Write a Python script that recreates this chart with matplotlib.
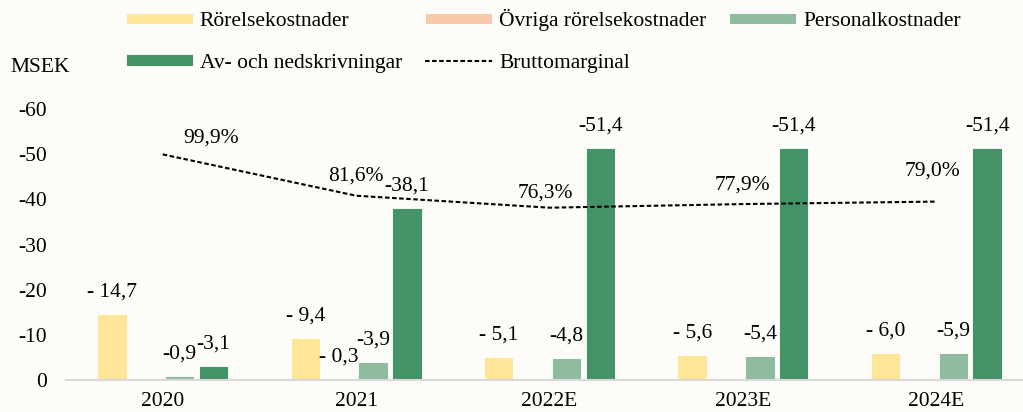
import numpy as np
import matplotlib.pyplot as plt
from matplotlib.ticker import FuncFormatter

plt.rcParams['font.family'] = ['Liberation Serif', 'DejaVu Serif']

years = ['2020', '2021', '2022E', '2023E', '2024E']
rorelse = [14.7, 9.4, 5.1, 5.6, 6.0]
ovriga = [0.0, 0.3, 0.0, 0.0, 0.0]
personal = [0.9, 3.9, 4.8, 5.4, 5.9]
avskr = [3.1, 38.1, 51.4, 51.4, 51.4]
brutto = [99.9, 81.6, 76.3, 77.9, 79.0]

# label offsets (px) for the margin labels
brutto_offsets = [(48, 16), (0, 20), (-4, 15), (0, 19), (-4, 31)]

series = [
    ('Rörelsekostnader', rorelse, '#FFE597', '- '),
    ('Övriga rörelsekostnader', ovriga, '#F8C9AA', '- '),
    ('Personalkostnader', personal, '#8FBB9E', '-'),
    ('Av- och nedskrivningar', avskr, '#449366', '-'),
]

fs = 15.5
bg = '#FDFCF8'
fig = plt.figure(figsize=(10.23, 4.12), dpi=100, facecolor=bg)
ax = fig.add_axes([66 / 1023, 32 / 412, 967 / 1023, 271 / 412])
ax.set_facecolor(bg)

x = np.arange(len(years))
step = 0.175
width = 0.152
handles = {}
for i, (name, vals, col, prefix) in enumerate(series):
    pos = x + (i - 1.5) * step
    b = ax.bar(pos, vals, width, color=col, edgecolor='white', linewidth=0.6, label=name)
    handles[name] = b
    for px, v in zip(pos, vals):
        if v <= 0:
            continue
        lab = prefix + f'{v:.1f}'.replace('.', ',')
        ax.annotate(lab, (px, v), xytext=(0, 15.8), textcoords='offset points',
                    ha='center', va='center', fontsize=fs, annotation_clip=False)

ax.set_xlim(-0.5, 4.5)
ax.set_ylim(0, 60)
ax.set_yticks(range(0, 61, 10))
ax.yaxis.set_major_formatter(FuncFormatter(lambda v, p: '0' if v == 0 else f'-{int(v)}'))
ax.set_xticks(x)
ax.set_xticklabels(years)
ax.tick_params(axis='both', length=0, labelsize=fs)
ax.tick_params(axis='y', pad=14)
ax.tick_params(axis='x', pad=8.5)
for s in ['top', 'right', 'left']:
    ax.spines[s].set_visible(False)
ax.spines['bottom'].set_color('#D9D9D9')
ax.spines['bottom'].set_linewidth(1.5)

ax2 = ax.twinx()
ax2.set_ylim(0, 120)
ax2.axis('off')
ln, = ax2.plot(x, brutto, color='black', linewidth=1.5, linestyle=(0, (2.2, 1.2)),
               label='Bruttomarginal')
for xi, v, off in zip(x, brutto, brutto_offsets):
    ax2.annotate(f'{v:.1f}%'.replace('.', ','), (xi, v),
                 xytext=(off[0] * 0.72, off[1] * 0.72), textcoords='offset points',
                 ha='center', va='center', fontsize=fs)

fig.text(10 / 1023, 1 - 67 / 412, 'MSEK', fontsize=fs, va='center', ha='left')

order = ['Rörelsekostnader', 'Av- och nedskrivningar', 'Övriga rörelsekostnader',
         None, 'Personalkostnader']
hs, ls = [], []
for n in order:
    if n is None:
        hs.append(ln)
        ls.append('Bruttomarginal')
    else:
        hs.append(handles[n])
        ls.append(n)
fig.legend(hs, ls, loc='upper left', bbox_to_anchor=(126 / 1023, 1 - 9 / 412),
           ncol=3, frameon=False, fontsize=fs, borderpad=0, borderaxespad=0,
           handlelength=3.1, handleheight=0.45, handletextpad=0.33,
           columnspacing=1.07, labelspacing=1.05)

fig.savefig('out.png', dpi=100, facecolor=bg)
